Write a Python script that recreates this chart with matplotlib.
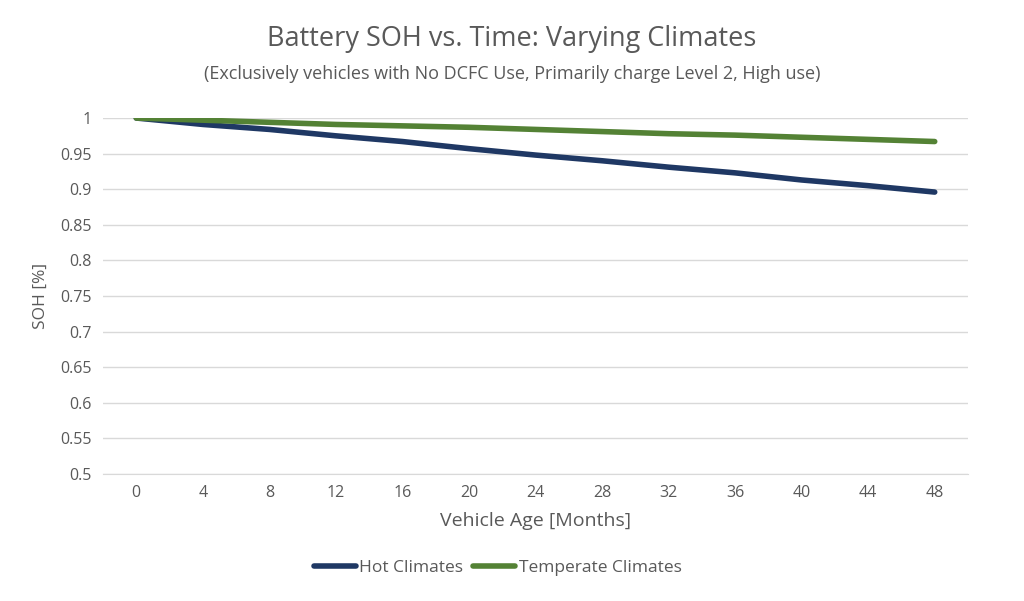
import matplotlib
matplotlib.use("Agg")
import matplotlib.pyplot as plt

plt.rcParams['font.family'] = ['Open Sans', 'DejaVu Sans']

months = [0, 4, 8, 12, 16, 20, 24, 28, 32, 36, 40, 44, 48]
hot = [1.0, 0.991, 0.984, 0.975, 0.967, 0.957, 0.948, 0.940, 0.931, 0.923, 0.913, 0.905, 0.896]
temperate = [1.0, 0.997, 0.994, 0.991, 0.989, 0.987, 0.984, 0.981, 0.978, 0.976, 0.973, 0.970, 0.967]
yticks = [0.5, 0.55, 0.6, 0.65, 0.7, 0.75, 0.8, 0.85, 0.9, 0.95, 1]
ylabels = ['0.5', '0.55', '0.6', '0.65', '0.7', '0.75', '0.8', '0.85', '0.9', '0.95', '1']

fig = plt.figure(figsize=(10.24, 6.01), dpi=100)
ax = fig.add_axes([0.1006, 0.2113, 0.8447, 0.5923])
x = list(range(len(months)))
ax.plot(x, hot, color='#1F3864', lw=4, label='Hot Climates', solid_capstyle='round')
ax.plot(x, temperate, color='#548235', lw=4, label='Temperate Climates', solid_capstyle='round')
ax.set_xlim(-0.5, len(months) - 0.5)
ax.set_ylim(0.5, 1.0)
ax.set_yticks(yticks)
ax.set_yticklabels(ylabels)
ax.set_xticks(x)
ax.set_xticklabels([str(m) for m in months])
ax.grid(axis='y', color='#D9D9D9', lw=1)
ax.set_axisbelow(True)
for s in ['top', 'right', 'left']:
    ax.spines[s].set_visible(False)
ax.spines['bottom'].set_color('#D9D9D9')
ax.tick_params(length=0, labelsize=11.5, colors='#595959', pad=8)
ax.set_xlabel('Vehicle Age [Months]', fontsize=14, color='#595959', labelpad=8)
ax.set_ylabel('SOH [%]', fontsize=12.5, color='#595959', labelpad=8)
fig.text(0.5, 0.935, 'Battery SOH vs. Time: Varying Climates', ha='center', va='center', fontsize=19.5, color='#595959')
fig.text(0.5, 0.877, '(Exclusively vehicles with No DCFC Use, Primarily charge Level 2, High use)', ha='center', va='center', fontsize=13, color='#595959')
fig.legend(loc='center', bbox_to_anchor=(0.486, 0.055), ncol=2, frameon=False, fontsize=12.5,
           labelcolor='#595959', handlelength=2.4, columnspacing=0.6, handletextpad=0.2)
fig.savefig('out.png', dpi=100)
